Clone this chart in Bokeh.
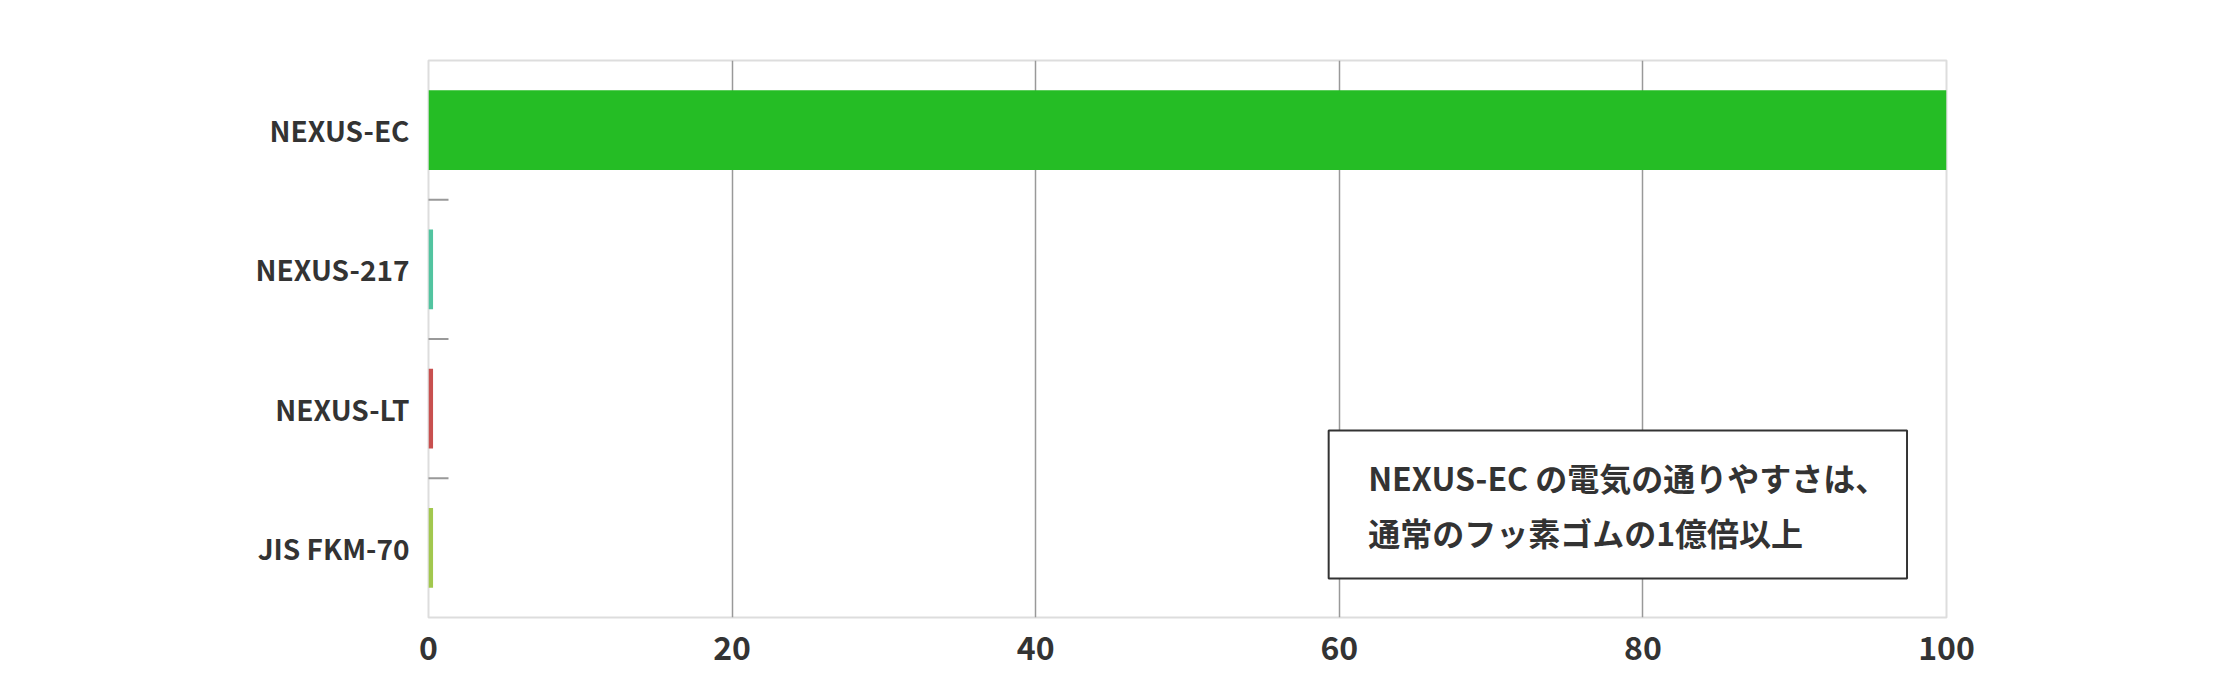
from bokeh.plotting import figure
from bokeh.models import FactorRange, Range1d, FixedTicker, ColumnDataSource, BoxAnnotation, Label
from bokeh.transform import dodge
from bokeh.embed import file_html
from bokeh.resources import INLINE

categories = ["NEXUS-EC", "NEXUS-217", "NEXUS-LT", "JIS FKM-70"]
values = [100, 0.3, 0.3, 0.3]
colors = ["#25BD25", "#52C4A0", "#C8504F", "#A2C84E"]
x_ticks = [0, 20, 40, 60, 80, 100]
grid_ticks = [20, 40, 60, 80]
note_lines = ["NEXUS-EC の電気の通りやすさは、", "通常のフッ素ゴムの1億倍以上"]

FONT = "Noto Sans CJK JP"
TXT = "#333333"

p = figure(width=2224, height=684, output_backend="svg", toolbar_location=None,
           y_range=FactorRange(factors=list(reversed(categories))),
           x_range=Range1d(0, 100),
           min_border_left=428, min_border_right=278, min_border_top=60, min_border_bottom=67)
p.background_fill_color = "white"
p.border_fill_color = "white"
p.outline_line_color = "#DDDDDD"
p.outline_line_width = 2

src = ColumnDataSource(dict(cat=categories, val=values, color=colors))
p.hbar(y="cat", left=0, right="val", height=0.574, fill_color="color", line_color=None, source=src)

# short boundary marks between categories
bsrc = ColumnDataSource(dict(cat=categories[:-1], x=[0] * (len(categories) - 1)))
p.scatter(x="x", y=dodge("cat", -0.5, range=p.y_range), marker="dash", size=40,
          line_color="#999999", line_width=2, source=bsrc)

# axes
p.xaxis.ticker = FixedTicker(ticks=x_ticks)
p.xaxis.axis_line_color = None
p.xaxis.major_tick_line_color = None
p.xaxis.minor_tick_line_color = None
p.xaxis.major_label_text_font = FONT
p.xaxis.major_label_text_font_style = "bold"
p.xaxis.major_label_text_font_size = "32px"
p.xaxis.major_label_text_color = TXT
p.xaxis.major_label_standoff = 12

p.yaxis.axis_line_color = None
p.yaxis.major_tick_line_color = None
p.yaxis.major_label_text_font = FONT
p.yaxis.major_label_text_font_style = "bold"
p.yaxis.major_label_text_font_size = "28px"
p.yaxis.major_label_text_color = TXT
p.yaxis.major_label_standoff = 13

p.xgrid.ticker = FixedTicker(ticks=grid_ticks)
p.xgrid.grid_line_color = "#999999"
p.xgrid.grid_line_width = 1.5
p.ygrid.grid_line_color = None

# annotation box
box = BoxAnnotation(left=59.3, right=97.4, top=1.343, bottom=0.28,
                    fill_color="white", fill_alpha=1.0,
                    line_color="#333333", line_width=2, line_alpha=1.0)
p.add_layout(box)
for t, yy in zip(note_lines, [1.01, 0.615]):
    p.add_layout(Label(x=61.9, y=yy, text=t, text_font=FONT, text_font_style="bold",
                       text_font_size="32px", text_color=TXT, text_baseline="middle",
                       text_align="left"))

open("out.html", "w").write(file_html(p, INLINE))
